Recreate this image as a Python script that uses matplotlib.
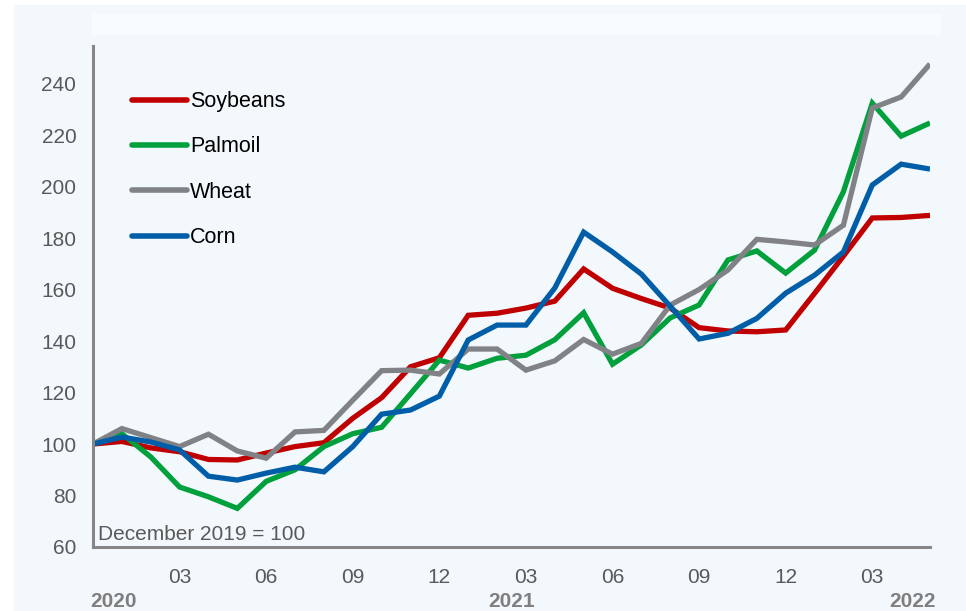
import matplotlib
matplotlib.use('Agg')
import matplotlib.pyplot as plt
from matplotlib.patches import Rectangle

plt.rcParams['font.family'] = ['Liberation Sans', 'DejaVu Sans']

# Index, December 2019 = 100 (monthly, Dec 2019 .. May 2022)
soybeans = [100, 101, 98.5, 97, 94, 93.8, 96.5, 99, 100.5, 110, 118, 130, 133.5,
            150, 150.8, 152.8, 155.5, 168, 160.5, 156.5, 152.8, 145.2, 143.9, 143.6, 144.3,
            158.5, 173, 187.8, 188, 188.8]
palmoil = [100, 104, 95, 83.3, 79.5, 75, 85.5, 90, 99, 104, 106.5, 119.5, 132.6,
           129.5, 133.3, 134.5, 140.5, 151, 131, 138.5, 149, 154, 171.5, 175, 166.4,
           175.3, 198, 232.4, 219.6, 224.7]
wheat = [100, 106, 102.5, 99, 103.8, 97.3, 94.5, 104.7, 105.3, 117, 128.5, 128.7, 127.2,
         136.9, 136.9, 128.7, 132.3, 140.6, 134.9, 139.1, 154, 160, 167.6, 179.5, 178.5,
         177.3, 185, 230.5, 234.8, 247.6]
corn = [100, 102.7, 100.8, 97.7, 87.5, 86, 88.7, 91, 89.2, 99, 111.6, 113.2, 118.6,
        140.4, 146.2, 146.2, 160.6, 182.3, 174.6, 166, 153.5, 140.8, 143, 148.8, 158.6,
        165.6, 174.6, 200.6, 208.7, 206.8]

series = [('Soybeans', soybeans, '#c00000'),
          ('Palmoil', palmoil, '#00a03c'),
          ('Wheat', wheat, '#808285'),
          ('Corn', corn, '#005ea8')]

month_ticks = [3, 6, 9, 12, 15, 18, 21, 24, 27]
month_labels = ['03', '06', '09', '12', '03', '06', '09', '12', '03']
year_pos = [0.7, 14.5, 28.4]
year_labels = ['2020', '2021', '2022']
y_ticks = [60, 80, 100, 120, 140, 160, 180, 200, 220, 240]

bg = '#f3f8fc'
fig = plt.figure(figsize=(9.66, 6.11), dpi=100, facecolor='white')
fig.patches.append(Rectangle((14 / 966, 0), 1, 1 - 5 / 611, transform=fig.transFigure,
                             color=bg, zorder=-2))
fig.patches.append(Rectangle((92 / 966, 1 - 34 / 611), 848 / 966, 20 / 611,
                             transform=fig.transFigure, color='#f9fcfe', zorder=-1))

ax = fig.add_axes([93 / 966, 1 - 547 / 611, 837 / 966, 501 / 611])
ax.set_facecolor('none')

x = list(range(len(soybeans)))
for name, vals, col in series:
    ax.plot(x, vals, color=col, lw=3.8, label=name, solid_capstyle='butt',
            solid_joinstyle='miter')

ax.set_xlim(0, 29)
ax.set_ylim(60, 254.6)
ax.set_yticks(y_ticks)
ax.set_xticks(month_ticks)
ax.set_xticklabels(month_labels)
ax.tick_params(axis='both', length=0, labelsize=15, labelcolor='#595959')
ax.tick_params(axis='y', pad=12)
ax.tick_params(axis='x', pad=15)

for s in ['top', 'right']:
    ax.spines[s].set_visible(False)
for s in ['left', 'bottom']:
    ax.spines[s].set_color('#868686')
    ax.spines[s].set_linewidth(2.2)

for xp, lab in zip(year_pos, year_labels):
    ax.text(xp, -0.108, lab, transform=ax.get_xaxis_transform(), ha='center', va='center',
            fontsize=15, fontweight='bold', color='#7f7f7f')

ax.text(0.006, 0.025, 'December 2019 = 100', transform=ax.transAxes, ha='left',
        va='center', fontsize=15, color='#595959')

leg = ax.legend(loc='upper left', bbox_to_anchor=(0.047, 0.910), frameon=False,
                fontsize=15.5, handlelength=2.55, handletextpad=0.12, labelspacing=1.13,
                borderpad=0, borderaxespad=0)
for h in leg.get_lines():
    h.set_solid_capstyle('round')
    h.set_linewidth(4)

fig.savefig('out.png', dpi=100, facecolor=fig.get_facecolor())
